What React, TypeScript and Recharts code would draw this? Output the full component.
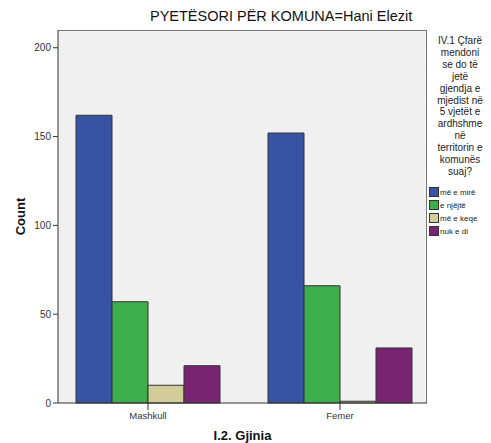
import { BarChart, Bar, XAxis, YAxis } from 'recharts'

// ============================================
// Data
// ============================================

const genders = ['Mashkull', 'Femer']
const miMire = [162, 152]
const eNjejte = [57, 66]
const meKeqe = [10, 1]
const nukEDi = [21, 31]
const yTicks = [0, 50, 100, 150, 200]

const seriesNames = ['më e mirë', 'e njëjtë', 'më e keqe', 'nuk e di']
const seriesColors = ['#3953A4', '#3CAE4B', '#D1CC98', '#782472']
const legendTitle = [
  'IV.1 Çfarë',
  'mendoni',
  'se do të',
  'jetë',
  'gjendja e',
  'mjedist në',
  '5 vjetët e',
  'ardhshme',
  'në',
  'territorin e',
  'komunës',
  'suaj?',
]

const chartData = genders.map((g, i) => ({
  gender: g,
  s0: miMire[i],
  s1: eNjejte[i],
  s2: meKeqe[i],
  s3: nukEDi[i],
}))

const font = "Arial, 'Liberation Sans', sans-serif"

// ============================================
// Legend
// ============================================

function SpssLegend() {
  return (
    <div style={{ fontFamily: font, width: 62, color: '#222' }}>
      <div style={{ textAlign: 'center', fontSize: 10, lineHeight: '11.9px' }}>
        {legendTitle.map((l) => (
          <div key={l}>{l}</div>
        ))}
      </div>
      <div style={{ marginTop: 8 }}>
        {seriesNames.map((n, i) => (
          <div
            key={n}
            style={{ display: 'flex', alignItems: 'center', height: 13, fontSize: 8 }}
          >
            <span
              style={{
                display: 'inline-block',
                width: 8,
                height: 8,
                background: seriesColors[i],
                border: '1px solid #333',
                marginRight: 1,
              }}
            />
            {n}
          </div>
        ))}
      </div>
    </div>
  )
}

// ============================================
// Main Component
// ============================================

export default function App() {
  const tickStyle = { fontSize: 10, fill: '#333', fontFamily: font }
  return (
    <div style={{ position: 'absolute', left: 0, top: 0, width: 491, height: 443, background: '#fff' }}>
      <div
        style={{
          position: 'absolute',
          left: 58,
          top: 30,
          width: 368,
          height: 372,
          background: '#F0F0F0',
          border: '1px solid #777',
          borderBottom: 'none',
          borderLeft: 'none',
        }}
      />
      <div
        style={{
          position: 'absolute',
          left: 150,
          top: 8,
          fontFamily: font,
          fontSize: 14.5,
          color: '#111',
          whiteSpace: 'nowrap',
        }}
      >
        PYETËSORI PËR KOMUNA=Hani Elezit
      </div>
      <div style={{ position: 'absolute', left: 429, top: 35 }}>
        <SpssLegend />
      </div>
      <div style={{ position: 'absolute', left: 0, top: 0 }}>
        <BarChart
          width={491}
          height={443}
          data={chartData}
          margin={{ top: 30, right: 64, left: 0, bottom: 0 }}
          barGap={0}
          barCategoryGap={24}
        >
          <XAxis
            dataKey="gender"
            height={40}
            padding={{ left: -6, right: -9 }}
            tick={{ ...tickStyle, fontSize: 9.5 }}
            tickSize={7}
            stroke="#333"
            label={{
              value: 'I.2. Gjinia',
              position: 'insideBottom',
              offset: 3,
              style: { fontFamily: font, fontSize: 13, fontWeight: 'bold', fill: '#111' },
            }}
          />
          <YAxis
            width={58}
            domain={[0, 210]}
            ticks={yTicks}
            tick={tickStyle}
            tickSize={5}
            stroke="#333"
            label={{
              value: 'Count',
              angle: -90,
              position: 'insideLeft',
              offset: 20,
              style: { fontFamily: font, fontSize: 13, fontWeight: 'bold', fill: '#111', textAnchor: 'middle' },
            }}
          />
          {['s0', 's1', 's2', 's3'].map((k, i) => (
            <Bar
              key={k}
              dataKey={k}
              name={seriesNames[i]}
              fill={seriesColors[i]}
              stroke="#333"
              strokeWidth={1}
              isAnimationActive={false}
            />
          ))}
        </BarChart>
      </div>
    </div>
  )
}
